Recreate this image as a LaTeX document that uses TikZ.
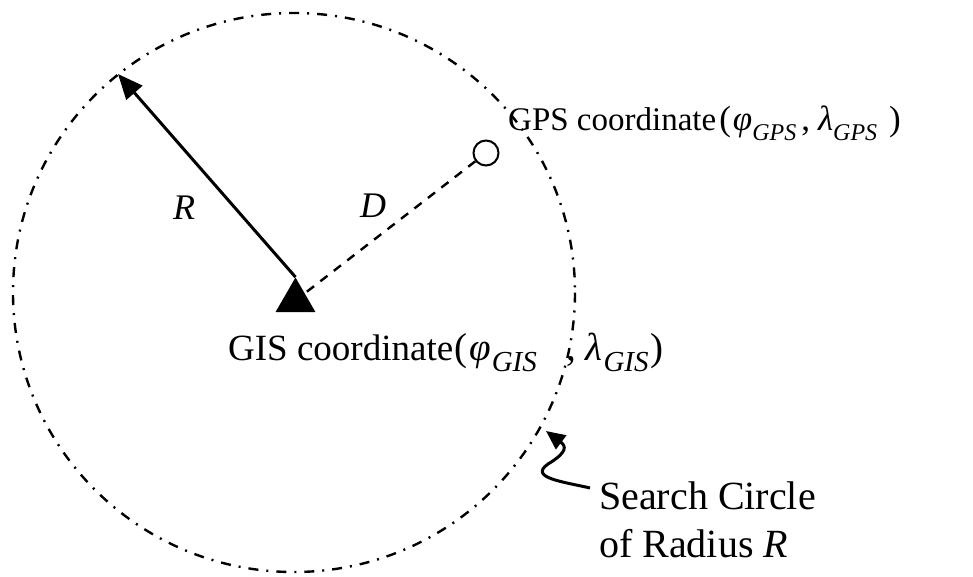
\documentclass[tikz,border=0pt]{standalone}
\usepackage{fontspec}
\setmainfont{Liberation Serif}
\usetikzlibrary{arrows.meta,shapes.geometric}
\newcommand{\sbs}[2]{\raisebox{-0.3em}{\fontsize{#1}{#1}\selectfont\itshape #2}}
\begin{document}
\begin{tikzpicture}[x=1pt,y=-1pt,
  txt/.style={inner sep=0pt},
  searchcircle/.style={line width=2.4pt,dash pattern=on 10pt off 8pt on 2pt off 8pt},
  dline/.style={line width=2.4pt,dash pattern=on 9pt off 8pt},
  rarrow/.style={line width=3pt,-{Triangle[length=25pt,width=21pt]}},
  warrow/.style={line width=3pt,-{Triangle[length=19pt,width=17pt]}}]
\useasboundingbox (0,0) rectangle (973,576);
\fill[white] (0,0) rectangle (973,576);
% search circle
\coordinate (cc) at (294,292.5);
\draw[searchcircle] (cc) ellipse [x radius=281, y radius=279.5];
% GIS triangle
\node[regular polygon, regular polygon sides=3, minimum size=46pt, fill=black, inner sep=0pt] (gis) at (295.5,300.5) {};
% GPS point
\node[circle, draw, line width=2pt, minimum size=25pt, inner sep=0pt] (gps) at (486,153) {};
% R arrow
\coordinate (rtip) at (118,74);
\draw[rarrow] (gis.corner 1) -- (rtip);
% D line
\draw[dline] (gps) -- (gis);
% labels
\node[txt,font=\fontsize{36}{40}\selectfont\itshape] (rlab) at (184,208) {R};
\node[txt,font=\fontsize{36}{40}\selectfont\itshape] (dlab) at (373,206) {D};
\node[txt,anchor=base west,font=\fontsize{33}{38}\selectfont] (gpstext) at (508,130)
  {GPS coordinate\hspace{3pt}{\fontsize{35}{35}\selectfont(\hspace{2pt}\textit{φ}\sbs{24}{GPS}\hspace{5pt},\hspace{8pt}\textit{λ}\sbs{24}{GPS}\hspace{12pt})}};
\node[txt,anchor=base west,font=\fontsize{37}{40}\selectfont] (gistext) at (228,360)
  {GIS coordinate\hspace{1pt}{\fontsize{39}{39}\selectfont(\hspace{2pt}\textit{φ}\hspace{1pt}\sbs{29}{GIS}\hspace{30pt},\hspace{9pt}\textit{λ}\hspace{1pt}\sbs{29}{GIS}\hspace{2pt})}};
\node[txt,anchor=base west,font=\fontsize{40}{46}\selectfont] (search1) at (599,509) {Search Circle};
\node[txt,anchor=base west,font=\fontsize{40}{46}\selectfont] (search2) at (599,557) {of Radius \textit{R}};
% wavy arrow
\coordinate (wtail) at (590,488);
\coordinate (wtip) at (546,431);
\draw[warrow] (wtail) .. controls (565,482) and (528,478) .. (548,464) .. controls (568,452) and (566,446) .. (wtip);
\end{tikzpicture}
\end{document}
